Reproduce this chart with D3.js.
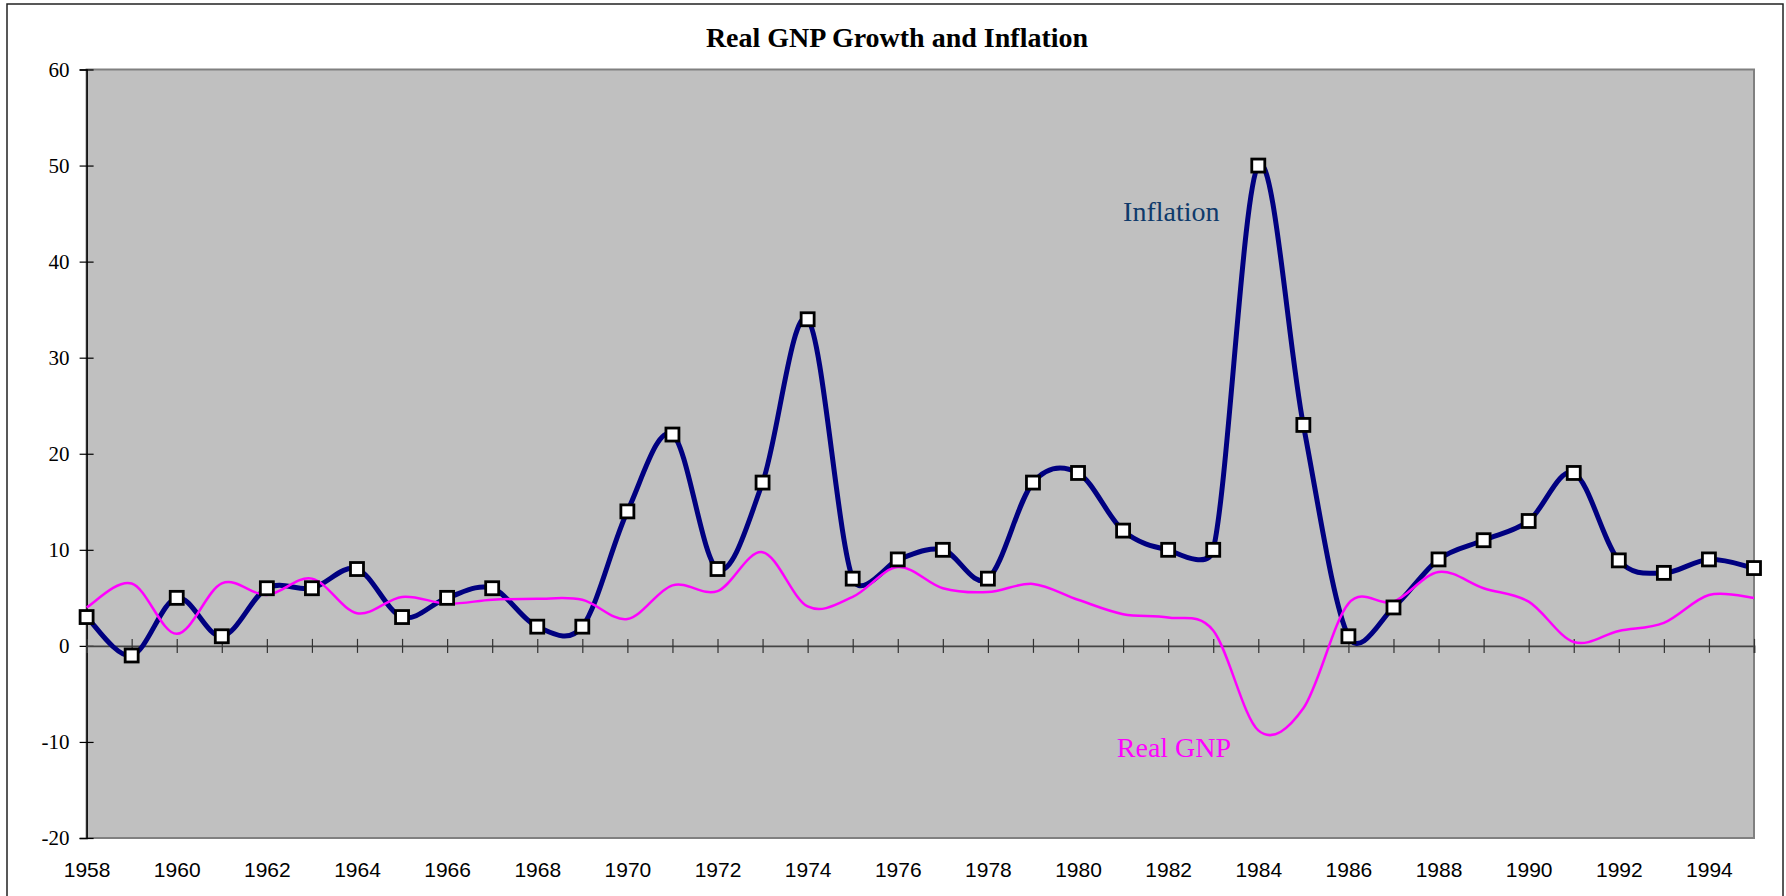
<!DOCTYPE html>
<html>
<head>
<meta charset="utf-8">
<script src="https://cdn.jsdelivr.net/npm/d3@7"></script>
<style>
  body { margin: 0; background: #fff; }
</style>
</head>
<body>
<svg id="chart"></svg>
<script>
const width = 1786;
const height = 896;

// ----- DATA -----
const years = [1958, 1959, 1960, 1961, 1962, 1963, 1964, 1965, 1966, 1967,
  1968, 1969, 1970, 1971, 1972, 1973, 1974, 1975, 1976, 1977,
  1978, 1979, 1980, 1981, 1982, 1983, 1984, 1985, 1986, 1987,
  1988, 1989, 1990, 1991, 1992, 1993, 1994, 1995];
const inflation = [3, -1, 5, 1, 6, 6, 8, 3, 5, 6,
  2, 2, 14, 22, 8, 17, 34, 7, 9, 10,
  7, 17, 18, 12, 10, 10, 50, 23, 1, 4,
  9, 11, 13, 18, 8.9, 7.6, 9, 8.1];
const realGnp = [4.0, 6.5, 1.25, 6.5, 5.3, 7.0, 3.4, 5.1, 4.4, 4.8,
  4.9, 4.8, 2.8, 6.3, 5.7, 9.75, 4.1, 5.1, 8.2, 6.0,
  5.6, 6.45, 4.8, 3.3, 2.95, 1.6, -8.8, -6.5, 4.4, 4.6,
  7.7, 6.0, 4.6, 0.4, 1.55, 2.4, 5.3, 5.0];
const yTicks = [-20, -10, 0, 10, 20, 30, 40, 50, 60];
const xLabelYears = [1958, 1960, 1962, 1964, 1966, 1968, 1970, 1972, 1974, 1976,
  1978, 1980, 1982, 1984, 1986, 1988, 1990, 1992, 1994];

const plot = { left: 86.6, right: 1754, top: 69.5, bottom: 838 };

// Excel "smoothed line": bezier with 1/6 tangents, arms capped at half the segment
function curveExcel(context) {
  let pts;
  const dist = (a, b) => Math.hypot(b[0] - a[0], b[1] - a[1]);
  return {
    areaStart() {},
    areaEnd() {},
    lineStart() { pts = []; },
    point(px, py) { pts.push([+px, +py]); },
    lineEnd() {
      const n = pts.length;
      if (!n) return;
      context.moveTo(pts[0][0], pts[0][1]);
      for (let i = 0; i < n - 1; i++) {
        const p0 = pts[Math.max(i - 1, 0)];
        const p1 = pts[i];
        const p2 = pts[i + 1];
        const p3 = pts[Math.min(i + 2, n - 1)];
        const d02 = dist(p0, p2), d12 = dist(p1, p2), d13 = dist(p1, p3);
        let f1 = 1 / 6, f2 = 1 / 6;
        const c02 = d02 / 6 >= d12 / 2, c13 = d13 / 6 >= d12 / 2;
        if (c02 && c13) {
          f1 = d12 / 2 / d02;
          f2 = d12 / 2 / d13;
        } else if (c02 || c13) {
          f1 = f2 = d12 / 2 / Math.max(d02, d13);
        }
        const b1 = [p1[0] + (p2[0] - p0[0]) * f1, p1[1] + (p2[1] - p0[1]) * f1];
        const b2 = [p2[0] - (p3[0] - p1[0]) * f2, p2[1] - (p3[1] - p1[1]) * f2];
        context.bezierCurveTo(b1[0], b1[1], b2[0], b2[1], p2[0], p2[1]);
      }
    }
  };
}

const svg = d3.select("#chart")
  .attr("width", width)
  .attr("height", height)
  .style("display", "block");

// chart area border
svg.append("rect")
  .attr("x", 7).attr("y", 4)
  .attr("width", 1776).attr("height", 900)
  .attr("fill", "#fff")
  .attr("stroke", "#222")
  .attr("stroke-width", 1.5);

const x = d3.scaleLinear()
  .domain([years[0], years[years.length - 1]])
  .range([plot.left, plot.right]);

const y = d3.scaleLinear()
  .domain([-20, 60])
  .range([plot.bottom, plot.top]);

// plot area
svg.append("rect")
  .attr("x", plot.left).attr("y", plot.top)
  .attr("width", plot.right - plot.left)
  .attr("height", plot.bottom - plot.top)
  .attr("fill", "#c0c0c0")
  .attr("stroke", "#808080")
  .attr("stroke-width", 2);

// title
svg.append("text")
  .attr("x", 897).attr("y", 47)
  .attr("text-anchor", "middle")
  .style("font-family", "'Liberation Serif', 'Times New Roman', serif")
  .style("font-weight", "bold")
  .style("font-size", "28px")
  .text("Real GNP Growth and Inflation");

// ----- Y AXIS -----
const yAxis = svg.append("g")
  .attr("transform", `translate(${plot.left},0)`)
  .call(d3.axisLeft(y).tickValues(yTicks).tickSize(7).tickPadding(10).tickFormat(d => String(d)));

yAxis.select(".domain").attr("stroke", "#000").attr("stroke-width", 1.5);
yAxis.selectAll(".tick line").attr("x1", 7).attr("stroke", "#000").attr("stroke-width", 1.2);
yAxis.selectAll(".tick text")
  .style("font-family", "'Liberation Serif', 'Times New Roman', serif")
  .style("font-size", "21px")
  .attr("fill", "#000");

// ----- X AXIS (crosses at zero) -----
const xAxis = svg.append("g")
  .attr("transform", `translate(0,${y(0)})`)
  .call(d3.axisBottom(x).tickValues(years).tickSize(7).tickFormat(""));

xAxis.select(".domain").attr("stroke", "#444").attr("stroke-width", 1.8);
xAxis.selectAll(".tick line").attr("y1", -7).attr("stroke", "#333").attr("stroke-width", 1.2);

// year labels sit below the plot area
const xLabels = svg.append("g")
  .attr("transform", `translate(0,${plot.bottom})`)
  .call(d3.axisBottom(x).tickValues(xLabelYears).tickSize(0).tickPadding(24).tickFormat(d => String(d)));

xLabels.select(".domain").remove();
xLabels.selectAll(".tick text")
  .style("font-family", "'Liberation Sans', Arial, sans-serif")
  .style("font-size", "21px")
  .attr("fill", "#000");

// ----- LINES -----
const infData = years.map((yr, i) => ({ year: yr, value: inflation[i] }));
const gnpData = years.map((yr, i) => ({ year: yr, value: realGnp[i] }));

const line = d3.line()
  .x(d => x(d.year))
  .y(d => y(d.value))
  .curve(curveExcel);

svg.append("path")
  .datum(infData)
  .attr("fill", "none")
  .attr("stroke", "#000080")
  .attr("stroke-width", 5)
  .attr("stroke-linejoin", "round")
  .attr("d", line);

svg.append("path")
  .datum(gnpData)
  .attr("fill", "none")
  .attr("stroke", "#ff00ff")
  .attr("stroke-width", 2.5)
  .attr("d", line);

// inflation markers
svg.append("g")
  .selectAll("rect")
  .data(infData)
  .join("rect")
  .attr("x", d => x(d.year) - 6.5)
  .attr("y", d => y(d.value) - 6.5)
  .attr("width", 13)
  .attr("height", 13)
  .attr("fill", "#fff")
  .attr("stroke", "#000")
  .attr("stroke-width", 2.8);

// ----- SERIES LABELS -----
svg.append("text")
  .attr("x", x(1981)).attr("y", y(44.2))
  .style("font-family", "'Liberation Serif', 'Times New Roman', serif")
  .style("font-size", "28px")
  .attr("fill", "#0f3a6b")
  .text("Inflation");

svg.append("text")
  .attr("x", x(1980.86)).attr("y", y(-11.6))
  .style("font-family", "'Liberation Serif', 'Times New Roman', serif")
  .style("font-size", "28px")
  .attr("fill", "#ff00ff")
  .text("Real GNP");
</script>
</body>
</html>
